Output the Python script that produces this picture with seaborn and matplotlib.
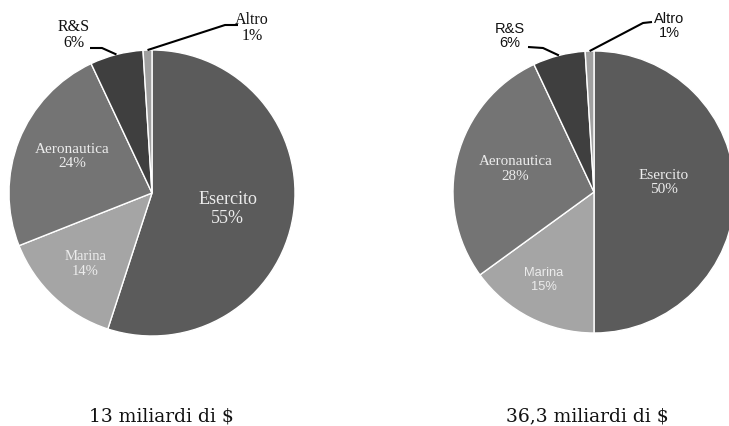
import matplotlib
matplotlib.use('Agg')
import numpy as np
import matplotlib.pyplot as plt
import seaborn as sns

# dati
categorie = ['Esercito', 'Marina', 'Aeronautica', 'R&S', 'Altro']
quote_13 = [55, 14, 24, 6, 1]
quote_36 = [50, 15, 28, 6, 1]
titoli = ['13 miliardi di $', '36,3 miliardi di $']

colori = ['#5b5b5b', '#a5a5a5', '#747474', '#3f3f3f', '#a0a0a0']

sns.set_theme(style='white')
plt.rcParams['font.family'] = ['Liberation Serif', 'DejaVu Serif']

W, H = 729, 426
fig = plt.figure(figsize=(W / 100, H / 100), dpi=100)
ax = fig.add_axes([0, 0, 1, 1])


def py(y):
    # coordinate in pixel dall'alto -> dati
    return H - y


SERIF = ['Liberation Serif', 'DejaVu Serif']
SANS = ['Liberation Sans', 'DejaVu Sans']
TITOLO = ['DejaVu Serif']

# centro, raggio, etichette interne (distanza, scarto angolo, famiglia, dimensione, interlinea)
torte = [
    dict(valori=quote_13, centro=(152, 193), raggio=143,
         interne={'Esercito': (0.54, -3, SERIF, 13, 1.1),
                  'Marina': (0.68, 0, SERIF, 10.5, 1.15),
                  'Aeronautica': (0.61, -3, SERIF, 11, 1.15)},
         rs_testo=(74, 35), rs_linea=[(90, 48), (102, 48)],
         altro_testo=(252, 28), altro_linea=[(238, 25), (225, 25)],
         fonte_esterna=SERIF, fs_esterna=11.5, titolo_x=161),
    dict(valori=quote_36, centro=(594, 192), raggio=141,
         interne={'Esercito': (0.5, 8, SERIF, 11, 1.1),
                  'Marina': (0.72, -2.5, SANS, 9.3, 1.2),
                  'Aeronautica': (0.58, -2, SERIF, 10.8, 1.15)},
         rs_testo=(510, 36), rs_linea=[(528, 47), (543, 48)],
         altro_testo=(669, 26), altro_linea=[(652, 22), (643, 23)],
         fonte_esterna=SANS, fs_esterna=10.5, titolo_x=587),
]

for i, t in enumerate(torte):
    cx, cy = t['centro']
    R = t['raggio']
    wedges, _ = ax.pie(t['valori'], colors=colori, startangle=90, counterclock=False,
                       center=(cx, py(cy)), radius=R, frame=True,
                       wedgeprops=dict(edgecolor='white', linewidth=1.0))
    for w, nome, val in zip(wedges, categorie, t['valori']):
        mid = np.deg2rad((w.theta1 + w.theta2) / 2)
        if nome in t['interne']:
            d, scarto, fam, fs, ls = t['interne'][nome]
            a = mid + np.deg2rad(scarto)
            x = cx + d * R * np.cos(a)
            y = py(cy) + d * R * np.sin(a)
            ax.text(x, y, f'{nome}\n{val}%', ha='center', va='center',
                    color='#ececec', fontsize=fs, family=fam, linespacing=ls)
        else:
            bordo = (cx + R * np.cos(mid), py(cy) + R * np.sin(mid))
            if nome == 'R&S':
                tx, ty = t['rs_testo']
                pts = t['rs_linea']
            else:
                tx, ty = t['altro_testo']
                pts = t['altro_linea']
            xs = [p[0] for p in pts] + [bordo[0]]
            ys = [py(p[1]) for p in pts] + [bordo[1]]
            ax.plot(xs, ys, color='black', lw=1.5, solid_capstyle='butt')
            ax.text(tx, py(ty), f'{nome}\n{val}%', ha='center', va='center',
                    color='#111111', fontsize=t['fs_esterna'], family=t['fonte_esterna'],
                    linespacing=1.05)
    ax.text(t['titolo_x'], py(416), titoli[i], ha='center', va='center',
            fontsize=13.5, family=TITOLO, color='#111111')

ax.set_xlim(0, W)
ax.set_ylim(0, H)
ax.set_aspect('equal')
ax.axis('off')

fig.savefig('out.png', dpi=100)
